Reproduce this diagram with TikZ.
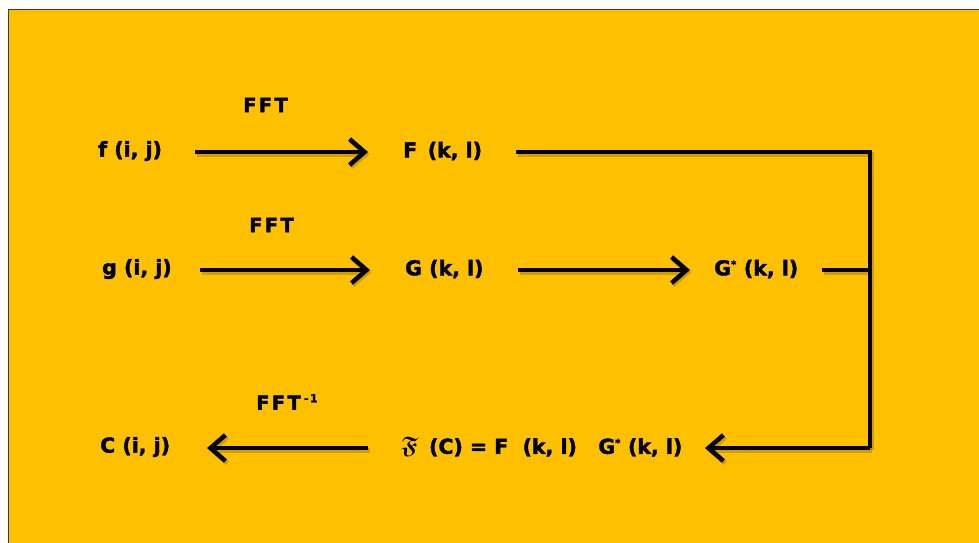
\documentclass[tikz,border=0pt]{standalone}
\usepackage{amssymb,bm}
\usepackage{fontspec}
\setmainfont{DejaVu Sans}[BoldFeatures={FakeBold=2}]
\newfontfamily\fftfont{DejaVu Sans}[LetterSpace=12,BoldFeatures={FakeBold=2}]
\usetikzlibrary{arrows.meta}
\definecolor{bgyellow}{HTML}{FFC000}
\definecolor{frame}{HTML}{3A3A3A}
\tikzset{
  lbl/.style={font=\fontsize{20.5}{24}\selectfont\bfseries, inner sep=0pt, text=black, anchor=west},
  fftlbl/.style={font=\fontsize{19.5}{24}\fftfont\bfseries, inner sep=0pt, text=black, anchor=west},
  conn/.style={line width=4.5pt, draw=black},
  arr/.style={conn, -{Straight Barb[length=15pt,width=26pt,line width=4.5pt]}},
  shade/.style={line width=5pt, draw=black, opacity=0.18, transform canvas={xshift=1.5pt,yshift=-2pt}},
  shadearr/.style={shade, -{Straight Barb[length=15pt,width=26pt,line width=5pt]}},
}
\newcommand{\sstar}{\textsuperscript{\fontsize{10}{10}\selectfont *}}
\begin{document}
\begin{tikzpicture}[x=1pt,y=-1pt]
\useasboundingbox (0,0) rectangle (979,542);
\fill[white] (0,0) rectangle (979,542);
\filldraw[fill=bgyellow, draw=frame, line width=1.2pt] (8.5,9.5) rectangle (990,560);
% nodes
\node[lbl] (f) at (98,151) {f (i, j)};
\node[lbl] (F) at (403,151) {F\, (k, l)};
\node[lbl] (g) at (102,269) {g (i, j)};
\node[lbl] (G) at (405,269) {G (k, l)};
\node[lbl] (Gs) at (714,269) {G\sstar\ (k, l)};
\node[lbl] (C) at (100,447) {C (i, j)};
\node[lbl] (prod) at (401,447) {{\fontsize{24}{26}\selectfont$\bm{\mathfrak{F}}$}\, (C) = F\ \ (k, l)\ \ \ G\sstar\ (k, l)};
\node[fftlbl] (fft1) at (243,105) {FFT};
\node[fftlbl] (fft2) at (249,225) {FFT};
\node[fftlbl] (fft3) at (256,402) {FFT\,\textsuperscript{\fontsize{11}{11}\selectfont\bfseries -1}};
% corner coordinates
\coordinate (c1) at (870,152);
\coordinate (c2) at (870,270);
\coordinate (c3) at (870,448);
\coordinate (pF) at ([xshift=113pt,yshift=-1pt]F.west);
\coordinate (pG) at ([xshift=108pt,yshift=-1pt]Gs.west);
% shadows
\draw[shadearr] ([xshift=97pt,yshift=-1pt]f.west) -- ([xshift=-35pt,yshift=-1pt]F.west);
\draw[shadearr] ([xshift=98pt,yshift=-1pt]g.west) -- ([xshift=-35pt,yshift=-1pt]G.west);
\draw[shadearr] ([xshift=113pt,yshift=-1pt]G.west) -- ([xshift=-24pt,yshift=-1pt]Gs.west);
\draw[shade] (pF) -- (c1) -- (c3);
\draw[shade] (pG) -- (c2);
\draw[shadearr] (c3) -- ([xshift=304pt,yshift=-1pt]prod.west);
\draw[shadearr] ([xshift=-33pt,yshift=-1pt]prod.west) -- ([xshift=107pt,yshift=-1pt]C.west);
% connectors
\draw[arr] ([xshift=97pt,yshift=-1pt]f.west) -- ([xshift=-35pt,yshift=-1pt]F.west);
\draw[arr] ([xshift=98pt,yshift=-1pt]g.west) -- ([xshift=-35pt,yshift=-1pt]G.west);
\draw[arr] ([xshift=113pt,yshift=-1pt]G.west) -- ([xshift=-24pt,yshift=-1pt]Gs.west);
\draw[conn] (pF) -- (c1) -- (c3);
\draw[conn] (pG) -- (c2);
\draw[arr] (c3) -- ([xshift=304pt,yshift=-1pt]prod.west);
\draw[arr] ([xshift=-33pt,yshift=-1pt]prod.west) -- ([xshift=107pt,yshift=-1pt]C.west);
\end{tikzpicture}
\end{document}
